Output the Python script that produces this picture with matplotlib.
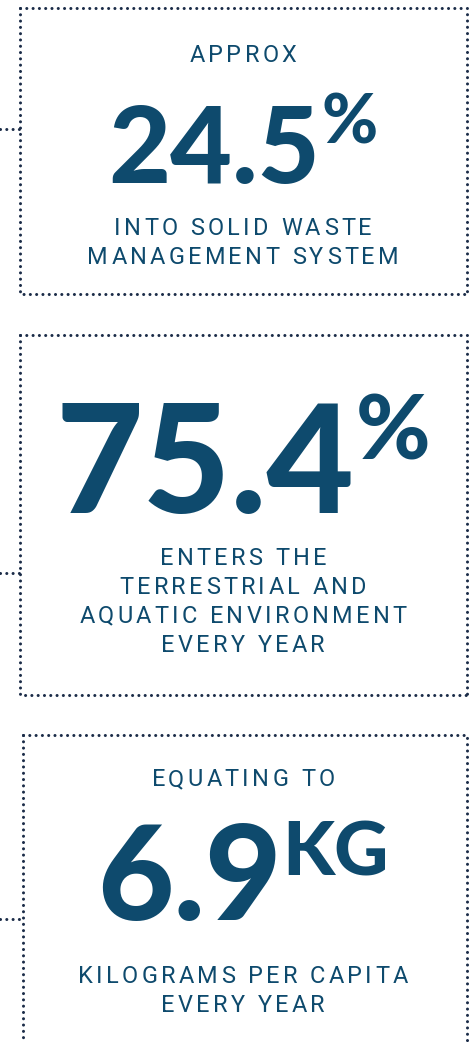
import matplotlib
matplotlib.use('Agg')
import matplotlib.pyplot as plt

# --- data -------------------------------------------------------------
big_values = ['24.5', '75.4', '6.9']
units = ['%', '%', 'KG']
top_labels = ['APPROX', '', 'EQUATING TO']
bottom_labels = [
    ['INTO SOLID WASTE', 'MANAGEMENT SYSTEM'],
    ['ENTERS THE', 'TERRESTRIAL AND', 'AQUATIC ENVIRONMENT', 'EVERY YEAR'],
    ['KILOGRAMS PER CAPITA', 'EVERY YEAR'],
]

# --- layout (pixels, y downwards) -------------------------------------
W, H = 474, 1042
boxes = [(20.5, 8, 467, 294, 128.5),     # x0, y0, x1, y1, connector y
         (20.5, 334.5, 467, 695, 573),
         (23, 735, 467, 1070, 919)]
top_base = [61.7, None, 786]
num_base = [183, 513, 920]
num_size = [77, 109, 95]
unit_base = [143, 460, 875]
unit_size = [49, 65, 54]
unit_gap = [1, 1, 1]
low_base = [[235, 264.3], [565, 594, 622.7, 651.7], [983.3, 1012.3]]

blue = '#0e4a6d'
navy = '#1b2c48'
cx = 243
small = 16.9
track = 0.14 * small / 0.72

fig = plt.figure(figsize=(W / 100, H / 100), dpi=100)
ax = fig.add_axes([0, 0, 1, 1])
ax.set_xlim(0, W)
ax.set_ylim(H, 0)
ax.axis('off')
r = fig.canvas.get_renderer()


def width(s, **kw):
    t = ax.text(0, 0, s, **kw)
    w = t.get_window_extent(r).width
    t.remove()
    return w


def tracked(s, y, size=small):
    kw = dict(fontsize=size, family='Roboto', color=blue, va='baseline', ha='left')
    ws = [width(c, **kw) if c != ' ' else 0.26 * size / 0.72 for c in s]
    total = sum(ws) + track * (len(s) - 1)
    x = cx - total / 2
    for c, w in zip(s, ws):
        if c != ' ':
            ax.text(x, y, c, **kw)
        x += w + track


dot = dict(color=navy, lw=2.2, linestyle=(0, (0.01, 2.05)), dash_capstyle='round')
for x0, y0, x1, y1, yc in boxes:
    ax.plot([x0, x1, x1], [y0, y0, y1], **dot)
    ax.plot([x0, x0, x1], [y0, y1, y1], **dot)
    ax.plot([0, x0], [yc, yc], **dot)

big = dict(family='Lato', fontweight='black', color=blue, va='baseline', ha='left')
for i, v in enumerate(big_values):
    if top_labels[i]:
        tracked(top_labels[i], top_base[i])
    wn = width(v, fontsize=num_size[i], **big)
    wu = width(units[i], fontsize=unit_size[i], **big)
    x = cx - (wn + unit_gap[i] + wu) / 2
    ax.text(x, num_base[i], v, fontsize=num_size[i], **big)
    ax.text(x + wn + unit_gap[i], unit_base[i], units[i], fontsize=unit_size[i], **big)
    for line, y in zip(bottom_labels[i], low_base[i]):
        tracked(line, y)

fig.savefig('out.png', dpi=100)
